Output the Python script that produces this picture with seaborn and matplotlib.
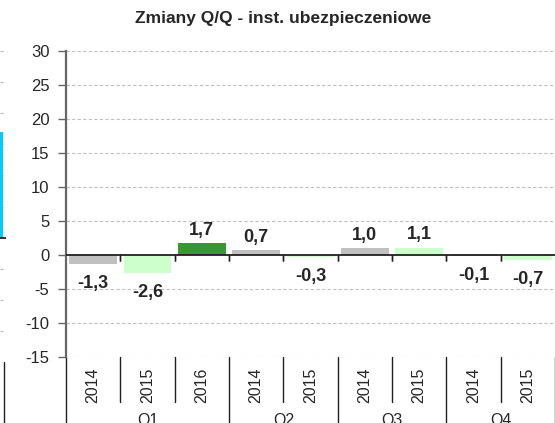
import matplotlib
matplotlib.use("Agg")
import matplotlib.pyplot as plt
import matplotlib.transforms as mtransforms
import numpy as np
import pandas as pd
import seaborn as sns

# data
quarters = ["Q1", "Q1", "Q1", "Q2", "Q2", "Q3", "Q3", "Q4", "Q4"]
years = ["2014", "2015", "2016", "2014", "2015", "2014", "2015", "2014", "2015"]
values = [-1.3, -2.6, 1.7, 0.7, -0.3, 1.0, 1.1, -0.1, -0.7]
year_colors = {"2014": "#c0c0c0", "2015": "#ccffcc", "2016": "#339933"}
y_ticks = [-15, -10, -5, 0, 5, 10, 15, 20, 25, 30]
title = "Zmiany Q/Q - inst. ubezpieczeniowe"

# remnant of the neighbouring chart on the left edge
left_value = 3.4
left_ticks = [-4, -3, -2, -1, 0, 1, 2, 3, 4, 5, 6]

sns.set_style("white")
plt.rcParams["font.family"] = ["Liberation Sans", "DejaVu Sans"]

df = pd.DataFrame({"quarter": quarters, "year": years, "value": values})
df["key"] = df["quarter"] + "-" + df["year"]

W, H = 555, 423
fig = plt.figure(figsize=(W / 100, H / 100), dpi=100)
ax = fig.add_axes([66 / W, 1 - 357 / H, (555 - 66) / W, (357 - 51) / H])

sns.barplot(data=df, x="key", y="value", hue="year", palette=year_colors,
            dodge=False, width=0.88, legend=False, ax=ax, linewidth=0,
            saturation=1)

n = len(df)
ax.set_xlim(-0.5, n - 0.5)
ax.set_ylim(min(y_ticks), max(y_ticks))
ax.set_yticks(y_ticks)
ax.set_yticklabels([str(t) for t in y_ticks], fontsize=12)
ax.set_xticks([])
ax.set_xlabel("")
ax.set_ylabel("")
for t in y_ticks:
    if t != 0:
        ax.axhline(t, color="#c0c0c0", lw=0.8, ls=(0, (3, 2)), zorder=0)
ax.axhline(0, color="#202020", lw=1.3, zorder=3)
for s in ["top", "right", "bottom"]:
    ax.spines[s].set_visible(False)
ax.spines["left"].set_color("#666666")
ax.spines["left"].set_linewidth(1.6)
ax.tick_params(axis="y", direction="out", length=6, width=1, color="#666666",
               left=True, pad=6)

# value labels
for i, v in enumerate(df["value"]):
    txt = f"{v:.1f}".replace(".", ",")
    if v >= 0:
        ax.annotate(txt, (i, v), xytext=(0, 3), textcoords="offset points",
                    ha="center", va="bottom", fontsize=13, fontweight="bold")
    else:
        ax.annotate(txt, (i, v), xytext=(0, -8), textcoords="offset points",
                    ha="center", va="top", fontsize=13, fontweight="bold")

# small ticks at the zero line between categories
for b in np.arange(n - 1) + 0.5:
    ax.plot([b, b], [0, 0], marker=3, ms=4, color="#202020", mew=1,
            clip_on=False, zorder=4)

# multilevel category axis under the plot
trans = mtransforms.blended_transform_factory(ax.transData, ax.transAxes)
for i, yr in enumerate(df["year"]):
    ax.text(i, -0.092, yr, rotation=90, ha="center", va="center",
            fontsize=11.5, transform=trans)
for b in np.arange(n + 1) - 0.5:
    left_q = df["quarter"].iloc[int(b - 0.5)] if b > 0 else None
    right_q = df["quarter"].iloc[int(b + 0.5)] if b < n - 1 else None
    low = -0.147 if (left_q == right_q) else -0.25
    ax.plot([b, b], [0, low], color="#202020", lw=1, transform=trans,
            clip_on=False)
for q in df["quarter"].unique():
    idx = np.where(df["quarter"] == q)[0]
    ax.text(idx.mean(), -0.206, q, ha="center", va="center", fontsize=11.5,
            transform=trans)

fig.text(283 / W, 1 - 19 / H, title, ha="center", va="center",
         fontsize=12.5, fontweight="bold")

# neighbouring chart fragment
axl = fig.add_axes([0, 1 - 362 / H, 6 / W, (362 - 51) / H])
axl.set_xlim(0, 1)
axl.set_ylim(min(left_ticks), max(left_ticks))
for t in left_ticks:
    if t != 0:
        axl.axhline(t, color="#c0c0c0", lw=0.8, ls=(0, (3, 2)), zorder=0)
axl.bar([0], [left_value], width=1, color="#00ccff", linewidth=0)
axl.axhline(0, color="#202020", lw=1.3)
axl.plot([0.7, 0.7], [0, -0.3], color="#202020", lw=1, transform=axl.transAxes,
         clip_on=False)
axl.axis("off")

fig.savefig("out.png", dpi=100)
